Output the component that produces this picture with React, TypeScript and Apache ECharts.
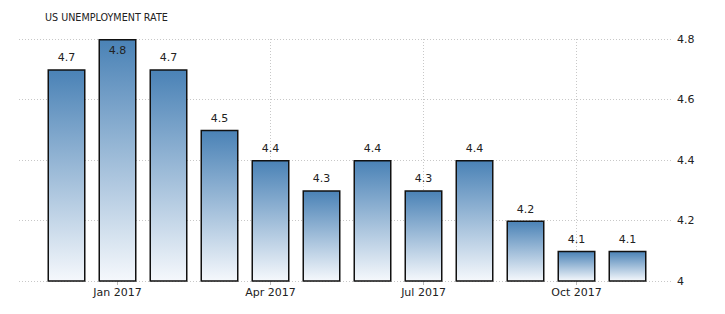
import React, { useEffect, useRef } from "react";
import * as echarts from "echarts";

const TITLE = "US UNEMPLOYMENT RATE";
const categories = ["Dec 2016", "Jan 2017", "Feb 2017", "Mar 2017", "Apr 2017", "May 2017", "Jun 2017", "Jul 2017", "Aug 2017", "Sep 2017", "Oct 2017", "Nov 2017"];
const values = [4.7, 4.8, 4.7, 4.5, 4.4, 4.3, 4.4, 4.3, 4.4, 4.2, 4.1, 4.1];
const labelledIndices = [1, 4, 7, 10];
const yMin = 4;
const yMax = 4.8;
const yStep = 0.2;

const FONT = "'DejaVu Sans', Verdana, sans-serif";

export default function App() {
  const ref = useRef<HTMLDivElement>(null);
  useEffect(() => {
    const chart = echarts.init(ref.current!, null, { renderer: "svg" });
    const top = 39;
    const bottom = 314 - 281;
    chart.setOption({
      animation: false,
      backgroundColor: "#ffffff",
      title: {
        text: TITLE,
        left: 40,
        top: 7,
        textStyle: { fontFamily: FONT, fontSize: 9.6, fontWeight: "normal", color: "#222" },
      },
      grid: [
        { left: 19, right: 725 - 672, top, bottom, containLabel: false },
        { left: 66.5, right: 725 - 627.5, top, bottom, containLabel: false },
      ],
      xAxis: [
        {
          gridIndex: 0,
          type: "value",
          min: 0,
          max: 1,
          show: false,
        },
        {
          gridIndex: 1,
          type: "category",
          data: categories,
          boundaryGap: false,
          axisLine: { show: false },
          axisTick: {
            show: true,
            interval: (i: number) => labelledIndices.includes(i),
            length: 4,
            lineStyle: { color: "#bbb" },
          },
          axisLabel: {
            interval: (i: number) => labelledIndices.includes(i),
            fontFamily: FONT,
            fontSize: 11,
            color: "#222",
            margin: 6,
            formatter: (v: string) => v,
          },
          splitLine: {
            show: true,
            interval: (i: number) => labelledIndices.includes(i),
            lineStyle: { color: "#c8c8c8", type: [1, 2], width: 1 },
          },
        },
      ],
      yAxis: [
        {
          gridIndex: 0,
          type: "value",
          position: "right",
          min: yMin,
          max: yMax,
          interval: yStep,
          axisLine: { show: false },
          axisTick: { show: false },
          axisLabel: {
            fontFamily: FONT,
            fontSize: 11,
            color: "#222",
            margin: 5,
            formatter: (v: number) => String(Math.round(v * 10) / 10),
          },
          splitLine: { show: true, lineStyle: { color: "#c8c8c8", type: [1, 2], width: 1 } },
        },
        {
          gridIndex: 1,
          type: "value",
          min: yMin,
          max: yMax,
          interval: yStep,
          show: false,
          splitLine: { show: false },
        },
      ],
      series: [
        {
          type: "bar",
          xAxisIndex: 1,
          yAxisIndex: 1,
          barWidth: 38,
          data: values.map((v) => ({
            value: v,
            label: {
              show: true,
              position: v >= yMax ? "insideTop" : "top",
              distance: 6,
            },
          })),
          label: {
            show: true,
            fontFamily: FONT,
            fontSize: 11,
            color: "#222",
            formatter: (p: any) => String(p.value),
          },
          itemStyle: {
            color: new echarts.graphic.LinearGradient(0, 0, 0, 1, [
              { offset: 0, color: "#4a82b6" },
              { offset: 1, color: "#f5f8fc" },
            ]),
            borderColor: "#111",
            borderWidth: 1.5,
          },
        },
      ],
    });
    return () => chart.dispose();
  }, []);
  return <div ref={ref} style={{ width: 725, height: 314, position: "absolute", left: 0, top: 0 }} />;
}
